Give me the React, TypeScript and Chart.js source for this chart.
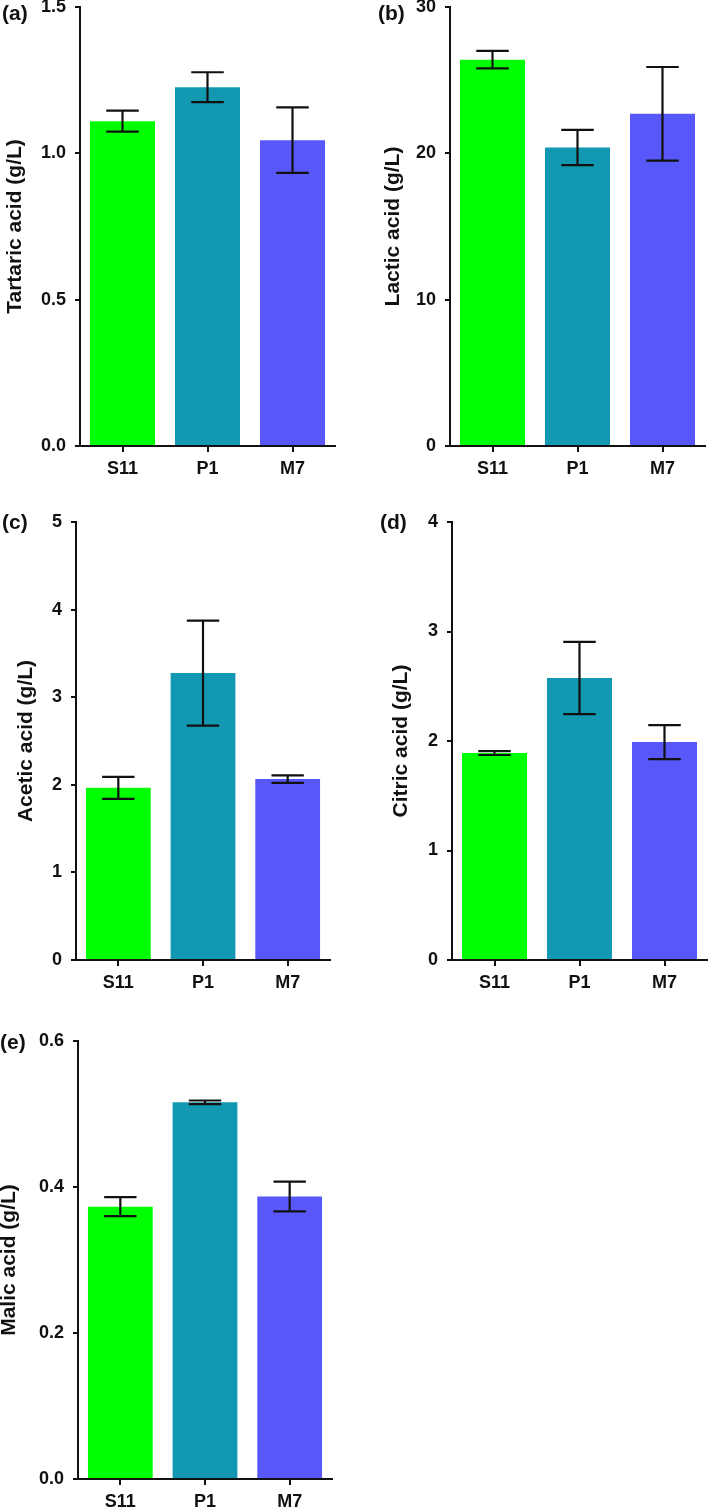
import React, { useEffect, useRef } from "react";
import { Chart, registerables } from "chart.js";

Chart.register(...registerables);

// ---------- data ----------
const categories = ["S11", "P1", "M7"];

const tartaricMeans = [1.11, 1.226, 1.045];
const tartaricErrors = [0.036, 0.051, 0.112];

const lacticMeans = [26.4, 20.4, 22.7];
const lacticErrors = [0.6, 1.2, 3.2];

const aceticMeans = [1.965, 3.275, 2.065];
const aceticErrors = [0.125, 0.6, 0.042];

const citricMeans = [1.89, 2.575, 1.99];
const citricErrors = [0.018, 0.33, 0.155];

const malicMeans = [0.373, 0.516, 0.387];
const malicErrors = [0.013, 0.0025, 0.0205];

const tartaricTicks = { max: 1.5, step: 0.5, decimals: 1 };
const lacticTicks = { max: 30, step: 10, decimals: 0 };
const aceticTicks = { max: 5, step: 1, decimals: 0 };
const citricTicks = { max: 4, step: 1, decimals: 0 };
const malicTicks = { max: 0.6, step: 0.2, decimals: 1 };

const barColors = ["#00ff00", "#1398b2", "#5858fa"];

// ---------- styling / layout ----------
const FONT = "'Liberation Sans', Arial, Helvetica, sans-serif";
const INK = "#111111";
const Y_AXIS_WIDTH = 95;
const PAD_TOP = 20;
const X_AXIS_HEIGHT = 50;

interface PanelDef {
  letter: string;
  title: string;
  means: number[];
  errors: number[];
  ticks: { max: number; step: number; decimals: number };
  axisX: number;
  right: number;
  top: number;
  bottom: number;
  titleX: number;
  letterX: number;
  letterY: number;
}

const panels: PanelDef[] = [
  { letter: "(a)", title: "Tartaric acid (g/L)", means: tartaricMeans, errors: tartaricErrors, ticks: tartaricTicks,
    axisX: 80, right: 335, top: 7, bottom: 446, titleX: 15, letterX: 2, letterY: 14 },
  { letter: "(b)", title: "Lactic acid (g/L)", means: lacticMeans, errors: lacticErrors, ticks: lacticTicks,
    axisX: 450, right: 705, top: 7, bottom: 446, titleX: 393, letterX: 378, letterY: 14 },
  { letter: "(c)", title: "Acetic acid (g/L)", means: aceticMeans, errors: aceticErrors, ticks: aceticTicks,
    axisX: 76, right: 330, top: 522, bottom: 960, titleX: 26, letterX: 2, letterY: 523 },
  { letter: "(d)", title: "Citric acid (g/L)", means: citricMeans, errors: citricErrors, ticks: citricTicks,
    axisX: 452, right: 707, top: 522, bottom: 960, titleX: 401, letterX: 380, letterY: 523 },
  { letter: "(e)", title: "Malic acid (g/L)", means: malicMeans, errors: malicErrors, ticks: malicTicks,
    axisX: 78, right: 332, top: 1041, bottom: 1479, titleX: 9, letterX: 0, letterY: 1043 },
];

function PanelChart({ p }: { p: PanelDef }) {
  const ref = useRef<HTMLCanvasElement>(null);
  const canvasLeft = p.axisX - Y_AXIS_WIDTH;
  const canvasTop = p.top - PAD_TOP;
  const w = p.right - canvasLeft + 2;
  const h = p.bottom - p.top + PAD_TOP + X_AXIS_HEIGHT;

  useEffect(() => {
    const errorPlugin = {
      id: "errorBars",
      afterDatasetsDraw(chart: any) {
        const meta = chart.getDatasetMeta(0);
        const yScale = chart.scales.y;
        const ctx = chart.ctx as CanvasRenderingContext2D;
        ctx.save();
        ctx.strokeStyle = INK;
        ctx.lineWidth = 2.2;
        meta.data.forEach((bar: any, i: number) => {
          const v = p.means[i];
          const e = p.errors[i];
          const hi = yScale.getPixelForValue(v + e);
          const lo = yScale.getPixelForValue(v - e);
          const half = bar.width / 4;
          ctx.beginPath();
          ctx.moveTo(bar.x, hi);
          ctx.lineTo(bar.x, lo);
          ctx.moveTo(bar.x - half, hi);
          ctx.lineTo(bar.x + half, hi);
          ctx.moveTo(bar.x - half, lo);
          ctx.lineTo(bar.x + half, lo);
          ctx.stroke();
        });
        ctx.restore();
      },
    };
    const letterPlugin = {
      id: "panelLetter",
      afterDraw(chart: any) {
        const ctx = chart.ctx as CanvasRenderingContext2D;
        ctx.save();
        ctx.fillStyle = INK;
        ctx.font = `bold 21px ${FONT}`;
        ctx.textAlign = "left";
        ctx.textBaseline = "middle";
        ctx.fillText(p.letter, p.letterX - canvasLeft, p.letterY - canvasTop);
        ctx.restore();
      },
    };

    const chart = new Chart(ref.current as HTMLCanvasElement, {
      type: "bar",
      data: {
        labels: categories,
        datasets: [
          {
            data: p.means,
            backgroundColor: barColors,
            borderWidth: 0,
            barPercentage: 0.765,
            categoryPercentage: 1,
          },
        ],
      },
      options: {
        responsive: false,
        animation: false,
        devicePixelRatio: 1,
        layout: { padding: { top: PAD_TOP, left: 0, right: 2, bottom: 0 } },
        plugins: { legend: { display: false }, tooltip: { enabled: false } },
        scales: {
          x: {
            type: "category",
            offset: true,
            grid: {
              offset: false,
              drawOnChartArea: false,
              drawTicks: true,
              tickLength: 6,
              color: INK,
              lineWidth: 2,
            },
            border: { display: true, color: INK, width: 2 },
            ticks: {
              font: { family: FONT, size: 18, weight: "bold" },
              color: INK,
              padding: 6,
              maxRotation: 0,
            },
            afterFit: (s: any) => {
              s.height = X_AXIS_HEIGHT;
            },
          },
          y: {
            type: "linear",
            min: 0,
            max: p.ticks.max,
            ticks: {
              stepSize: p.ticks.step,
              callback: (v: any) => Number(v).toFixed(p.ticks.decimals),
              font: { family: FONT, size: 18, weight: "bold" },
              color: INK,
              padding: 9,
            },
            grid: {
              drawOnChartArea: false,
              drawTicks: true,
              tickLength: 5,
              color: INK,
              lineWidth: 2,
            },
            border: { display: true, color: INK, width: 2 },
            title: {
              display: true,
              text: p.title,
              color: INK,
              font: { family: FONT, size: 21, weight: "bold" },
              padding: { top: p.titleX - canvasLeft - 12.6, bottom: 0 },
            },
            afterFit: (s: any) => {
              s.width = Y_AXIS_WIDTH;
            },
          },
        },
      } as any,
      plugins: [errorPlugin, letterPlugin],
    });
    return () => chart.destroy();
  }, []);

  return (
    <canvas
      ref={ref}
      width={w}
      height={h}
      style={{ position: "absolute", left: canvasLeft, top: canvasTop, width: w, height: h }}
    />
  );
}

export default function App() {
  return (
    <div
      style={{
        position: "absolute",
        left: 0,
        top: 0,
        width: 709,
        height: 1509,
        overflow: "hidden",
        background: "#ffffff",
      }}
    >
      {panels.map((p) => (
        <PanelChart key={p.letter} p={p} />
      ))}
    </div>
  );
}
